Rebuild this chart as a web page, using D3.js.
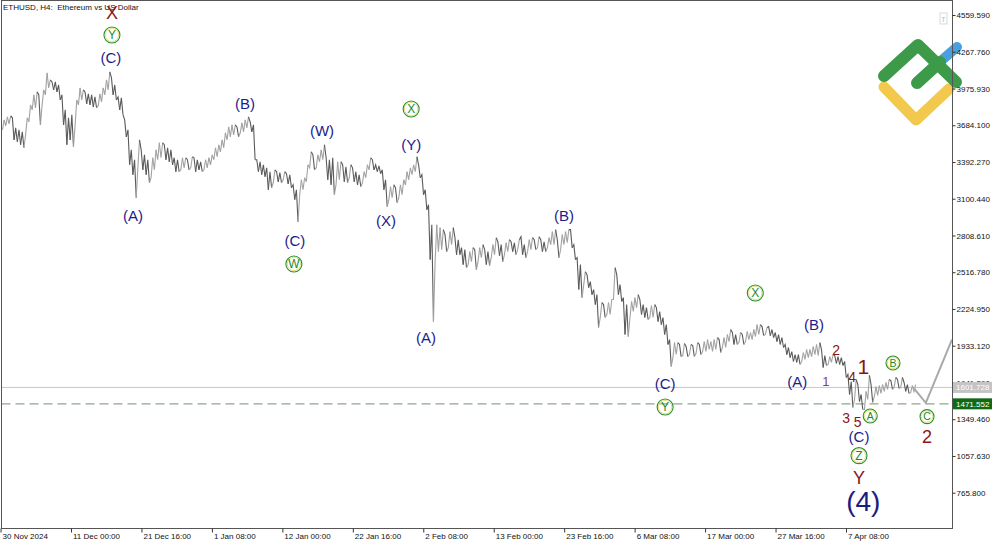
<!DOCTYPE html>
<html><head><meta charset="utf-8">
<script src="https://cdn.jsdelivr.net/npm/d3@7"></script>
<style>body{margin:0;background:#fff;} svg{display:block;font-family:"Liberation Sans",Arial,sans-serif;}</style>
</head><body><svg id="c" width="1000" height="545"></svg>
<script>
// ---- DATA ----
// 12-hour periods starting 30 Nov 2024 12:00 UTC (ETHUSD, H4 chart), high / low of each period
const startUTC = "2024-11-30T12:00:00Z";
const highs = [3727,3751,3759,3743,3663,3648,3632,3743,3846,3925,
3949,3925,3965,4100,4044,4028,4028,4004,3925,3806,
3743,3767,3885,3981,3965,3949,3933,3925,3909,3933,
3981,4044,4108,4060,4004,3909,3901,3727,3648,3489,
3410,3568,3489,3449,3410,3426,3489,3545,3545,3529,
3505,3489,3426,3410,3426,3426,3410,3434,3426,3410,
3394,3410,3426,3449,3505,3529,3568,3624,3671,3687,
3687,3671,3703,3727,3751,3711,3687,3410,3394,3370,
3346,3315,3330,3315,3307,3315,3299,3291,3211,3172,
3251,3267,3370,3473,3449,3449,3489,3529,3426,3410,
3426,3394,3394,3370,3354,3370,3346,3315,3291,3315,
3370,3426,3410,3370,3362,3330,3251,3196,3211,3188,
3211,3251,3315,3346,3370,3434,3370,3291,3172,3053,
2894,2894,2871,2855,2815,2839,2871,2791,2775,2712,
2696,2680,2712,2696,2712,2736,2696,2680,2736,2791,
2759,2736,2751,2775,2759,2751,2775,2799,2736,2775,
2791,2775,2799,2775,2759,2791,2839,2855,2775,2815,
2839,2855,2855,2736,2632,2577,2521,2498,2442,2379,
2339,2276,2260,2276,2300,2553,2498,2418,2315,2260,
2284,2315,2339,2300,2260,2236,2252,2260,2236,2205,
2157,2101,1982,1958,1958,1943,1951,1927,1943,1935,
1958,1943,1966,1982,1966,1982,1998,1982,1998,2022,
2062,2038,2022,2038,2022,2046,2038,2062,2101,2101,
2085,2078,2085,2062,2038,2022,1998,1943,1919,1887,
1863,1863,1879,1903,1903,1927,1943,1958,1903,1855,
1847,1863,1855,1847,1839,1808,1705,1649,1665,1625,
1546,1570,1697,1625,1609,1617,1625,1641,1665,1657,
1681,1665,1681,1641,1625,1617,1625];
const lows = [3648,3679,3695,3568,3553,3529,3505,3608,3711,3806,
3822,3687,3846,3925,3981,3965,3949,3885,3687,3529,
3568,3513,3687,3846,3885,3854,3846,3830,3822,3838,
3870,3925,3965,3925,3885,3806,3767,3592,3370,3291,
3108,3346,3330,3291,3227,3267,3330,3410,3426,3410,
3394,3370,3315,3315,3330,3346,3330,3346,3315,3330,
3315,3330,3346,3370,3410,3434,3473,3505,3568,3592,
3608,3592,3624,3632,3663,3632,3410,3315,3291,3275,
3172,3188,3227,3235,3227,3251,3219,3188,3093,2918,
3132,3172,3235,3346,3330,3346,3394,3410,3251,3211,
3132,3211,3251,3235,3227,3267,3235,3211,3196,3227,
3267,3330,3330,3315,3299,3172,3037,3093,3108,3069,
3108,3132,3211,3251,3291,3315,3267,3132,3013,2617,
2125,2601,2680,2696,2680,2712,2736,2656,2656,2577,
2553,2577,2601,2537,2601,2632,2577,2569,2632,2656,
2648,2601,2656,2680,2680,2656,2696,2656,2632,2680,
2696,2696,2712,2680,2680,2712,2736,2736,2632,2696,
2736,2751,2712,2617,2379,2315,2418,2395,2339,2260,
2078,2157,2157,2181,2181,2300,2339,2284,2022,2006,
2157,2205,2236,2181,2157,2141,2157,2157,2125,2101,
2022,1943,1768,1839,1863,1847,1855,1847,1863,1847,
1871,1863,1887,1887,1903,1887,1903,1879,1919,1919,
1966,1943,1943,1958,1943,1966,1982,1982,2006,2022,
2014,2022,2014,1998,1966,1943,1919,1863,1839,1808,
1800,1784,1808,1824,1839,1847,1863,1855,1760,1776,
1784,1800,1792,1784,1776,1681,1546,1443,1506,1490,
1427,1427,1506,1483,1530,1538,1554,1570,1586,1586,
1602,1594,1602,1570,1554,1562,1570];

const yTicks = [4559.59,4267.76,3975.93,3684.10,3392.27,3100.44,2808.61,2516.78,2224.95,1933.12,1641.29,1349.46,1057.63,765.80];
const xTickDates = ["2024-11-30T08:00:00Z","2024-12-11T00:00:00Z","2024-12-21T16:00:00Z","2025-01-01T08:00:00Z","2025-01-12T00:00:00Z","2025-01-22T16:00:00Z","2025-02-02T08:00:00Z","2025-02-13T00:00:00Z","2025-02-23T16:00:00Z","2025-03-06T08:00:00Z","2025-03-17T00:00:00Z","2025-03-27T16:00:00Z","2025-04-07T08:00:00Z"];
const xTickLabels = ["30 Nov 2024","11 Dec 00:00","21 Dec 16:00","1 Jan 08:00","12 Jan 00:00","22 Jan 16:00","2 Feb 08:00","13 Feb 00:00","23 Feb 16:00","6 Mar 08:00","17 Mar 00:00","27 Mar 16:00","7 Apr 08:00"];

const bidPrice = 1601.728;
const levelPrice = 1471.552;

// forecast path
const projDates = ["2025-04-17T12:00:00Z","2025-04-19T10:00:00Z","2025-04-23T09:00:00Z"];
const projPrices = [1601.7,1480,1982];

// wave labels: text, anchor (12h-period index), price, kind
const annotLabels = ["X","Y","(C)","(A)","(B)","(C)","W","(W)","X","(Y)","(X)","(A)","(B)","(C)","Y","X","(B)","(A)","1","2","4","3","5","1","A","B","(C)","Z","Y","(4)","C","2"];
const annotIdx = [33.4,33.4,33.1,39.8,73.7,88.8,88.5,97.0,124.0,124.0,116.4,128.5,170.3,200.9,200.9,228.2,246.0,240.9,249.6,252.7,257.5,255.7,259.2,260.9,263.0,269.9,259.6,259.6,259.6,260.9,280.2,280.2];
const annotPrice = [4583,4401,4218,2963,3853,2765,2582,3638,3813,3527,2924,1994,2963,1629,1446,2352,2098,1645,1653,1899,1685,1359,1330,1772,1375,1796,1211,1060,886,700,1370,1211];
const annotKind = ["redL","circ","wave","wave","wave","wave","circ","wave","circ","wave","wave","wave","wave","wave","circ","circ","wave","wave","sub","minor","minor","minor","minor","redXL","circS","circS","wave","circ","redL","big","circS","redL"];

// ---- CHART ----
const svg = d3.select("#c");
const H = 3600e3;
const t0 = Date.parse(startUTC);
const x = d3.scaleUtc().domain([new Date("2024-12-11T00:00:00Z"), new Date("2025-04-07T08:00:00Z")]).range([71, 846]);
const y = d3.scaleLinear().domain([765.8, 4559.59]).range([492.7, 15]);
const L = 1.5, R = 952.5, T = 0.5, B = 528.5;

svg.append("defs").append("clipPath").attr("id","pc")
  .append("rect").attr("x",L).attr("y",T).attr("width",R-L).attr("height",B-T);

// logo
const logo = svg.append("g").attr("fill","none").attr("stroke-linecap","round").attr("stroke-linejoin","round");
logo.append("path").attr("d","M884,87L916,120L949,89").attr("stroke","#f2c94c").attr("stroke-width",11);
logo.append("path").attr("d","M942,60L957,47").attr("stroke","#4a9fe0").attr("stroke-width",10);
logo.append("path").attr("d","M884,76L918,45L956,82").attr("stroke","#3d9a48").attr("stroke-width",12);
logo.append("path").attr("d","M917,83L940,62").attr("stroke","#3d9a48").attr("stroke-width",12);

// little T box
svg.append("rect").attr("x",940).attr("y",13).attr("width",7).attr("height",11).attr("fill","#fff").attr("stroke","#cfcfcf").attr("stroke-width",0.8);
svg.append("text").attr("x",943.5).attr("y",21.5).attr("text-anchor","middle").attr("font-size",7).attr("fill","#b8b8b8").text("T");

const plot = svg.append("g").attr("clip-path","url(#pc)");

// bid line
plot.append("line").attr("x1",L).attr("x2",R).attr("y1",y(bidPrice)).attr("y2",y(bidPrice)).attr("stroke","#c8c8c8").attr("stroke-width",1);
// level dashed line
plot.append("line").attr("x1",L).attr("x2",R).attr("y1",y(levelPrice)).attr("y2",y(levelPrice))
  .attr("stroke","#8aa88a").attr("stroke-width",1.3).attr("stroke-dasharray","9,5");

// price bars: path through high/low of each period, order following direction
const line = d3.line();
let prev = null;
highs.forEach((h,i) => {
  const lo = lows[i];
  const mid = (h + lo) / 2;
  const pm = i > 0 ? (highs[i-1] + lows[i-1]) / 2 : mid;
  const rising = mid >= pm;
  const a = [x(new Date(t0 + (i*12+3)*H)), y(rising ? lo : h)];
  const b = [x(new Date(t0 + (i*12+9)*H)), y(rising ? h : lo)];
  const pts = prev ? [prev, a, b] : [a, b];
  plot.append("path").attr("d", line(pts)).attr("fill","none")
    .attr("stroke", rising ? "#a2a2a2" : "#5a5a5a").attr("stroke-width",1.1);
  prev = b;
});

// forecast
plot.append("path").attr("d", d3.line()(projDates.map((d,i)=>[x(new Date(d)), y(projPrices[i])])))
  .attr("fill","none").attr("stroke","#a9a9a9").attr("stroke-width",2);

// frame
svg.append("rect").attr("x",L).attr("y",T).attr("width",R-L).attr("height",B-T)
  .attr("fill","none").attr("stroke","#555").attr("stroke-width",1);

// axes
const yAxis = d3.axisRight(y).tickValues(yTicks).tickFormat(d3.format(".3f")).tickSize(3).tickPadding(1);
svg.append("g").attr("transform",`translate(${R},0)`).call(yAxis)
  .call(g=>g.select(".domain").remove())
  .call(g=>g.selectAll("line").attr("stroke","#333"))
  .call(g=>g.selectAll("text").attr("font-size",8).attr("fill","#111").attr("font-family","Liberation Sans, Arial, sans-serif"));

const xAxis = d3.axisBottom(x).tickValues(xTickDates.map(d=>new Date(d))).tickFormat((d,i)=>xTickLabels[i]).tickSize(4).tickPadding(1);
svg.append("g").attr("transform",`translate(0,${B})`).call(xAxis)
  .call(g=>g.select(".domain").remove())
  .call(g=>g.selectAll("line").attr("stroke","#333"))
  .call(g=>g.selectAll("text").attr("font-size",8).attr("fill","#111").attr("text-anchor","start").attr("dx",1.5)
      .attr("font-family","Liberation Sans, Arial, sans-serif"));

// price tags
function tag(price, fill, label) {
  const yy = y(price);
  svg.append("rect").attr("x",953).attr("y",yy-5.5).attr("width",39).attr("height",11).attr("fill",fill);
  svg.append("text").attr("x",956).attr("y",yy).attr("dy","0.35em").attr("font-size",8).attr("fill","#fff").text(label);
}
tag(bidPrice, "#c4c4c4", d3.format(".3f")(bidPrice));
tag(levelPrice, "#0f6b12", d3.format(".3f")(levelPrice));

// title
svg.append("text").attr("x",3).attr("y",10).attr("font-size",8).attr("fill","#111").style("white-space","pre")
  .text("ETHUSD, H4:  Ethereum vs US Dollar");

// wave labels
const styles = {
  wave:{size:15, fill:"#1c1c8e"},
  big:{size:28, fill:"#1c1c7e"},
  redL:{size:18, fill:"#8b1414"},
  redXL:{size:21, fill:"#8b1414"},
  minor:{size:14, fill:"#8b1414"},
  sub:{size:13, fill:"#8b3a6e"},
  circ:{r:8, size:12, fill:"#1f8a1f"},
  circS:{r:7, size:10.5, fill:"#1f8a1f"}
};
const ann = svg.append("g");
annotLabels.forEach((lab,i) => {
  const s = styles[annotKind[i]];
  const ax = x(new Date(t0 + annotIdx[i]*12*H));
  const ay = y(annotPrice[i]);
  if (s.r) {
    ann.append("circle").attr("cx",ax).attr("cy",ay).attr("r",s.r).attr("fill","none").attr("stroke","#2a8f2a").attr("stroke-width",1.1);
    ann.append("circle").attr("cx",ax).attr("cy",ay).attr("r",s.r-1.3).attr("fill","none").attr("stroke","#d8d24a").attr("stroke-width",0.7);
  }
  ann.append("text").attr("x",ax).attr("y",ay).attr("dy","0.36em").attr("text-anchor","middle")
    .attr("font-size",s.size).attr("fill",s.fill).text(lab);
});
</script></body></html>
